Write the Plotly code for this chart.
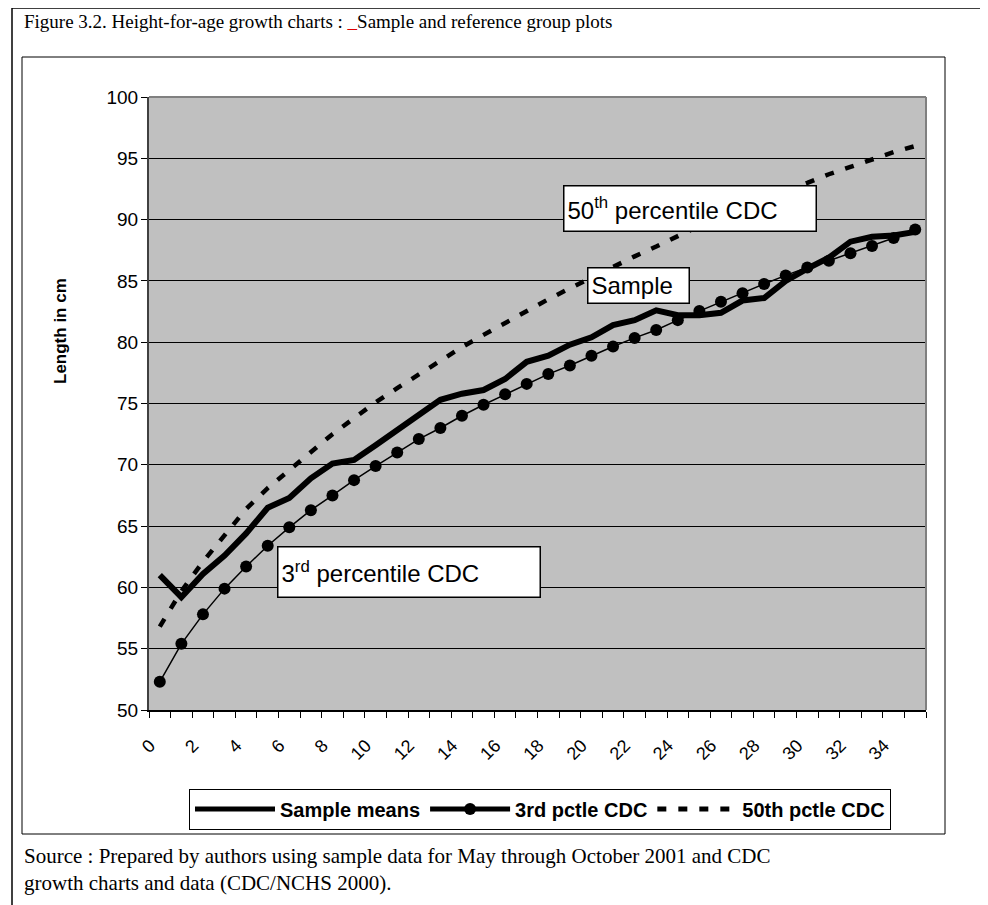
import plotly.graph_objects as go

# ---------------- data ----------------
age_months = list(range(36))
tick_vals = list(range(0, 35, 2))
tick_text = [str(v) for v in tick_vals]

sample_means = [61.0, 59.2, 61.1, 62.6, 64.4, 66.5, 67.3, 68.9, 70.1, 70.4,
                71.6, 72.8, 74.0, 75.3, 75.8, 76.1, 77.0, 78.4, 78.9, 79.8,
                80.4, 81.4, 81.8, 82.6, 82.2, 82.2, 82.4, 83.4, 83.6, 85.0,
                86.0, 86.9, 88.2, 88.6, 88.7, 89.0]

pctl3_cdc = [52.3, 55.4, 57.8, 59.9, 61.7, 63.4, 64.9, 66.3, 67.5, 68.75,
             69.9, 71.0, 72.1, 73.0, 74.0, 74.9, 75.75, 76.6, 77.4, 78.1,
             78.9, 79.65, 80.35, 81.0, 81.8, 82.55, 83.3, 84.0, 84.75, 85.45,
             86.1, 86.65, 87.25, 87.85, 88.5, 89.2]

pctl50_cdc = [56.8, 59.7, 62.1, 64.3, 66.4, 68.1, 69.6, 71.1, 72.5, 73.8,
              75.1, 76.25, 77.4, 78.5, 79.6, 80.6, 81.6, 82.6, 83.5, 84.4,
              85.3, 86.2, 87.0, 87.8, 88.7, 89.5, 90.3, 91.0, 91.7, 92.4,
              93.0, 93.7, 94.3, 94.9, 95.5, 96.0]

# ---------------- geometry helpers (page pixel -> paper) ----------------
OFF = 8                      # default body margin of the html page
W, H = 988 - OFF, 905 - OFF  # figure size so that it fits the window
PL, PR, PT, PB = 149, 926, 97, 710   # plot area in page pixels


def px(x):
    return (x - PL) / (PR - PL)


def py(y):
    return (PB - y) / (PB - PT)


FONT = "Arial, Liberation Sans, sans-serif"
SERIF = "Times New Roman, Liberation Serif, serif"

fig = go.Figure()
fig.add_trace(go.Scatter(x=age_months, y=sample_means, mode="lines",
                         name="Sample means",
                         line=dict(color="black", width=6)))
fig.add_trace(go.Scatter(x=age_months, y=pctl3_cdc, mode="lines+markers",
                         name="3rd pctle CDC",
                         line=dict(color="black", width=1.5),
                         marker=dict(color="black", size=12)))
fig.add_trace(go.Scatter(x=age_months, y=pctl50_cdc, mode="lines",
                         name="50th pctle CDC",
                         line=dict(color="black", width=4.5, dash="9px,12px")))

fig.update_layout(
    width=W, height=H,
    margin=dict(l=PL - OFF, r=W - (PR - OFF), t=PT - OFF, b=H - (PB - OFF), pad=0),
    paper_bgcolor="white",
    plot_bgcolor="#C0C0C0",
    font=dict(family=FONT, color="black", size=18),
    showlegend=True,
    legend=dict(orientation="h", x=px(540), y=py(809),
                xanchor="center", yanchor="middle",
                bgcolor="white", bordercolor="black", borderwidth=1,
                font=dict(family=FONT, size=20, color="black", weight="bold"),
                itemwidth=80, itemsizing="constant", tracegroupgap=0),
    xaxis=dict(range=[-0.5, 35.5], tickmode="array",
               tickvals=[v - 0.45 for v in tick_vals],
               ticktext=tick_text, tickangle=-45, ticks="",
               showgrid=False, zeroline=False, showline=True,
               linecolor="black", linewidth=2,
               tickfont=dict(family=FONT, size=18, color="black"),
               ticklabelstandoff=16,
               minor=dict(tickmode="array",
                          tickvals=[v - 0.5 for v in range(37)],
                          ticks="outside", ticklen=6, tickcolor="black",
                          tickwidth=1, showgrid=False)),
    yaxis=dict(range=[50, 100], dtick=5, tick0=50, showgrid=True,
               gridcolor="black", gridwidth=1, zeroline=False,
               showline=True, linecolor="#404040", linewidth=2,
               ticks="outside", ticklen=6, tickcolor="black",
               tickfont=dict(family=FONT, size=19, color="black"),
               ticklabelstandoff=-1),
)

shapes = [
    # outer page frame
    dict(type="line", xref="paper", yref="paper", x0=px(12), x1=px(1000),
         y0=py(8), y1=py(8), line=dict(color="black", width=1.5)),
    dict(type="line", xref="paper", yref="paper", x0=px(12), x1=px(12),
         y0=py(8), y1=py(920), line=dict(color="black", width=1.5)),
    # chart frame
    dict(type="rect", xref="paper", yref="paper", x0=px(22), x1=px(945),
         y0=py(834), y1=py(57), line=dict(color="black", width=1)),
    # plot-area top / right border (grey)
    dict(type="line", xref="paper", yref="paper", x0=0, x1=1, y0=1, y1=1,
         line=dict(color="#808080", width=2)),
    dict(type="line", xref="paper", yref="paper", x0=1, x1=1, y0=0, y1=1,
         line=dict(color="#808080", width=2)),
]
fig.update_layout(shapes=shapes)

ann = []
# figure title
ann.append(dict(xref="paper", yref="paper", x=px(22), y=py(21),
                xanchor="left", yanchor="middle", showarrow=False,
                text="Figure 3.2. Height-for-age growth charts : "
                     "<span style='color:#e00000'>_</span>Sample and reference group plots",
                font=dict(family=SERIF, size=19, color="black")))
# source note
ann.append(dict(xref="paper", yref="paper", x=px(22), y=py(869),
                xanchor="left", yanchor="middle", showarrow=False, align="left",
                text="Source : Prepared by authors using sample data for May through October 2001 and CDC"
                     "<br>growth charts and data (CDC/NCHS 2000).",
                font=dict(family=SERIF, size=21, color="black")))
# y-axis title
ann.append(dict(xref="paper", yref="paper", x=px(60), y=py(331),
                xanchor="center", yanchor="middle", showarrow=False,
                textangle=-90, text="<b>Length in cm</b>",
                font=dict(family=FONT, size=17, color="black")))
# text boxes
ann.append(dict(xref="paper", yref="paper", x=px(563), y=py(208),
                xanchor="left", yanchor="middle", showarrow=False,
                text="50<sup>th</sup> percentile CDC", align="left",
                width=245, height=38, borderpad=3,
                bgcolor="white", bordercolor="black", borderwidth=1.5,
                font=dict(family=FONT, size=24, color="black")))
ann.append(dict(xref="paper", yref="paper", x=px(587), y=py(285),
                xanchor="left", yanchor="middle", showarrow=False,
                text="Sample", align="left",
                width=94, height=28, borderpad=3,
                bgcolor="white", bordercolor="black", borderwidth=1.5,
                font=dict(family=FONT, size=24, color="black")))
ann.append(dict(xref="paper", yref="paper", x=px(277), y=py(571.5),
                xanchor="left", yanchor="middle", showarrow=False,
                text="3<sup>rd</sup> percentile CDC", align="left",
                width=255, height=43, borderpad=3,
                bgcolor="white", bordercolor="black", borderwidth=1.5,
                font=dict(family=FONT, size=24, color="black")))
fig.update_layout(annotations=ann)

fig.write_html("out.html")
